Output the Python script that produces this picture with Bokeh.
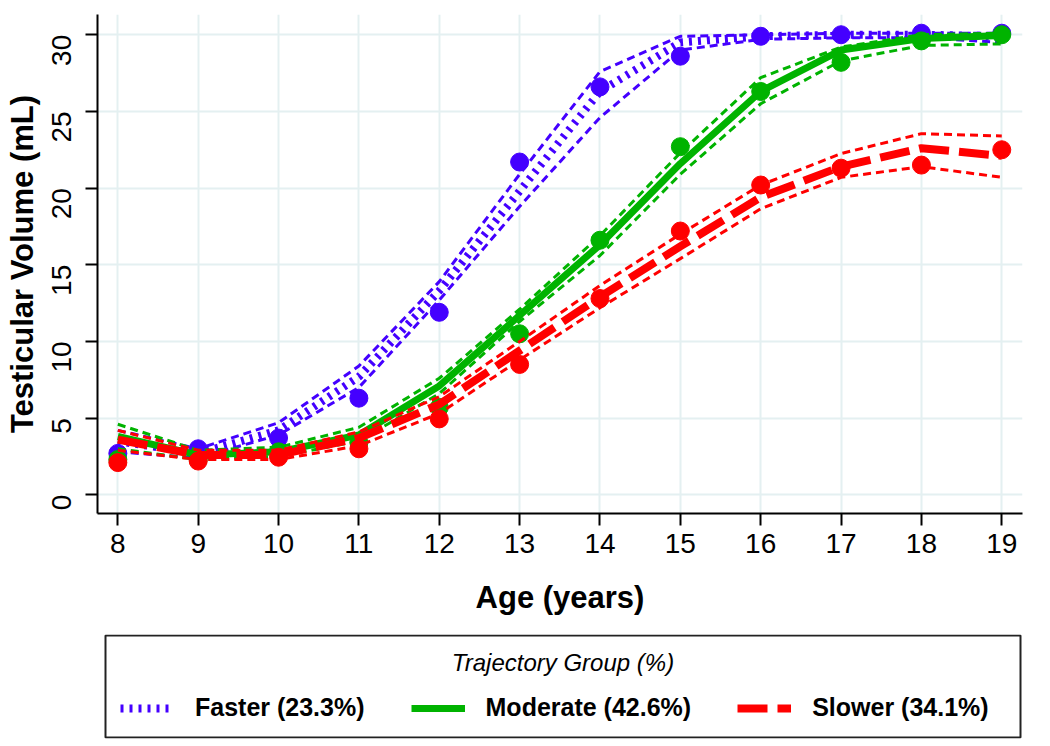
import math
from bokeh.plotting import figure
from bokeh.models import Range1d, Legend, LegendItem, Label, BoxAnnotation
from bokeh.layouts import column
from bokeh.embed import file_html
from bokeh.resources import INLINE

# ---------------- data ----------------
ages = [8, 9, 10, 11, 12, 13, 14, 15, 16, 17, 18, 19]
x_ticks = [8, 9, 10, 11, 12, 13, 14, 15, 16, 17, 18, 19]
y_ticks = [0, 5, 10, 15, 20, 25, 30]

faster_obs = [2.7, 3.0, 3.7, 6.3, 11.9, 21.7, 26.6, 28.6, 29.9, 30.0, 30.1, 30.1]
faster_fit = [3.5, 2.7, 4.2, 7.7, 13.3, 19.8, 26.3, 29.5, 29.9, 30.0, 30.0, 29.9]
faster_hi = [4.2, 3.0, 4.7, 8.4, 13.9, 20.9, 27.6, 29.9, 30.0, 30.1, 30.1, 30.1]
faster_lo = [2.8, 2.4, 3.9, 7.0, 12.7, 18.8, 24.6, 29.0, 29.7, 29.8, 29.8, 29.5]

moderate_obs = [2.3, 2.3, 2.8, 3.4, 5.7, 10.5, 16.6, 22.7, 26.3, 28.2, 29.6, 30.0]
moderate_fit = [3.8, 2.6, 2.8, 3.9, 7.1, 11.7, 16.3, 21.6, 26.3, 29.0, 29.75, 29.95]
moderate_hi = [4.6, 2.9, 3.1, 4.4, 7.6, 12.1, 16.9, 22.3, 27.2, 29.2, 30.0, 30.1]
moderate_lo = [3.0, 2.3, 2.5, 3.5, 6.6, 11.3, 15.6, 20.9, 25.5, 28.3, 29.3, 29.4]

slower_obs = [2.1, 2.2, 2.45, 3.0, 4.95, 8.5, 12.8, 17.2, 20.2, 21.3, 21.5, 22.5]
slower_fit = [3.6, 2.6, 2.6, 3.7, 5.9, 9.4, 12.9, 16.2, 19.4, 21.4, 22.6, 22.1]
slower_hi = [4.2, 2.9, 2.9, 4.1, 6.4, 10.0, 13.65, 17.0, 20.2, 22.25, 23.55, 23.4]
slower_lo = [2.9, 2.3, 2.3, 3.2, 5.3, 8.8, 12.2, 15.4, 18.65, 20.7, 21.4, 20.7]

labels = ["Faster (23.3%)", "Moderate (42.6%)", "Slower (34.1%)"]
legend_title = "Trajectory Group (%)"

BLUE = "#4400FF"
GREEN = "#00B300"
RED = "#FF0000"
FONT = "Liberation Sans"

# ---------------- main plot ----------------
p = figure(width=1044, height=634,
           x_range=Range1d(7.747, 19.258), y_range=Range1d(-1.22, 31.32),
           toolbar_location=None, output_backend="svg",
           min_border_left=97, min_border_right=22,
           min_border_top=14, min_border_bottom=121)
p.outline_line_color = None
p.background_fill_color = "white"
p.border_fill_color = "white"

p.grid.grid_line_color = "#e4f0f1"
p.grid.grid_line_width = 2

p.xaxis.ticker = x_ticks
p.yaxis.ticker = y_ticks
for ax in (p.xaxis, p.yaxis):
    ax.axis_line_width = 2
    ax.axis_line_color = "black"
    ax.major_tick_line_width = 2
    ax.major_tick_line_color = "black"
    ax.major_tick_out = 12
    ax.major_tick_in = 0
    ax.minor_tick_line_color = None
    ax.major_label_text_font = FONT
    ax.major_label_text_font_size = "28px"
    ax.major_label_text_color = "black"
    ax.axis_label_text_font = FONT
    ax.axis_label_text_font_size = "31px"
    ax.axis_label_text_font_style = "bold"
    ax.axis_label_text_color = "black"

p.xaxis.axis_label = "Age (years)"
p.xaxis.major_label_standoff = 8
p.xaxis.axis_label_standoff = 24
p.yaxis.axis_label = "Testicular Volume (mL)"
p.yaxis.major_label_orientation = math.pi / 2
p.yaxis.major_label_standoff = 24
p.yaxis.axis_label_standoff = 0

groups = [
    (faster_obs, faster_fit, faster_hi, faster_lo, BLUE, dict(line_width=8, line_dash="3 6")),
    (moderate_obs, moderate_fit, moderate_hi, moderate_lo, GREEN, dict(line_width=7)),
    (slower_obs, slower_fit, slower_hi, slower_lo, RED, dict(line_width=8, line_dash="30 10")),
]

for obs, fit, hi, lo, col, fit_style in groups:
    p.line(ages, hi, line_color=col, line_width=3, line_dash="8 5")
    p.line(ages, lo, line_color=col, line_width=3, line_dash="8 5")
    p.line(ages, fit, line_color=col, **fit_style)
    p.scatter(ages, obs, size=18, fill_color=col, line_color=col)

# ---------------- legend box (pixel-unit ranges) ----------------
p2 = figure(width=1044, height=106,
            x_range=Range1d(97, 1022), y_range=Range1d(0, 104),
            toolbar_location=None, output_backend="svg",
            x_axis_location=None, y_axis_location=None,
            min_border_left=97, min_border_right=22,
            min_border_top=0, min_border_bottom=2)
p2.grid.visible = False
p2.outline_line_color = None
p2.background_fill_color = "white"
p2.border_fill_color = "white"

p2.add_layout(BoxAnnotation(left=105, right=1020, bottom=1, top=103,
                            fill_alpha=0, line_color="#222222", line_alpha=1.0,
                            line_width=2))

items = []
for (obs, fit, hi, lo, col, fit_style), lab in zip(groups, labels):
    # same series, outside this box's ranges: only its legend sample shows
    r = p2.line(ages, fit, line_color=col, **fit_style)
    items.append(LegendItem(label=lab, renderers=[r]))

leg = Legend(items=items, orientation="horizontal", location=(23, 16),
             padding=4, spacing=46, glyph_width=54, glyph_height=20,
             label_standoff=21, label_text_font=FONT, label_text_font_style="bold",
             label_text_font_size="25px", label_text_color="black",
             border_line_color=None, background_fill_alpha=0)
p2.add_layout(leg)

p2.add_layout(Label(x=562.5, y=76, text=legend_title, text_align="center",
                    text_baseline="middle", text_font=FONT, text_font_style="italic",
                    text_font_size="24px", text_color="black"))

layout = column(p, p2, spacing=0)
open("out.html", "w").write(file_html(layout, INLINE))
